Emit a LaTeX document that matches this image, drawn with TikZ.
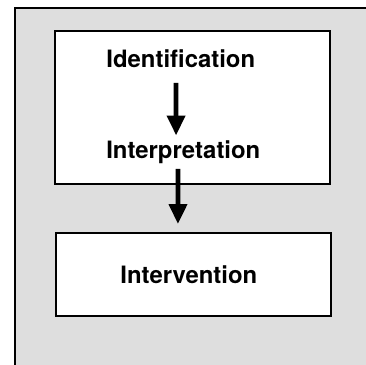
\documentclass[tikz,border=0pt]{standalone}
\usepackage{fontspec}
\setmainfont{TeX Gyre Heros}
\usetikzlibrary{arrows.meta}

\begin{document}
\begin{tikzpicture}[
    thick,
    every node/.style={font=\fontsize{17}{20}\selectfont\bfseries, inner sep=0pt},
    stagebox/.style={draw, line width=1.3pt, fill=white, minimum width=6.875cm},
    flow/.style={line width=3.4pt, -{Triangle[width=4.4mm, length=5mm]}}
]

    % --- PAGE AND SHADED PANEL ---
    \useasboundingbox (0,0) rectangle (9.15,9.125);
    \fill[black!13] (0.375,0) rectangle (9.15,8.925);
    \draw[line width=0.9pt] (0.375,0) -- (0.375,8.925) -- (9.15,8.925);

    % --- BOXES ---
    \node[stagebox, minimum height=3.825cm] (upper) at (4.8125, 6.4375) {};
    \node[stagebox, minimum height=2.075cm] (lower) at (4.8375, 2.2625) {};

    % --- LABELS ---
    \node[anchor=base] (ident)  at (4.52, 7.4425)  {Identification};
    \node[anchor=base] (interp) at (4.5825, 5.1675) {Interpretation};
    \node[anchor=base] (interv) at (4.72, 2.0425)  {Intervention};

    % --- ARROWS ---
    \draw[flow, shorten <=3.7mm, shorten >=1.1mm]
        ([xshift=-1.2mm]ident.south) -- ([xshift=-1.8mm]interp.north);
    \draw[flow, shorten <=1.2mm, shorten >=2mm]
        ([xshift=-1.3mm]interp.south) -- ([xshift=-3.9mm]lower.north);

\end{tikzpicture}
\end{document}
